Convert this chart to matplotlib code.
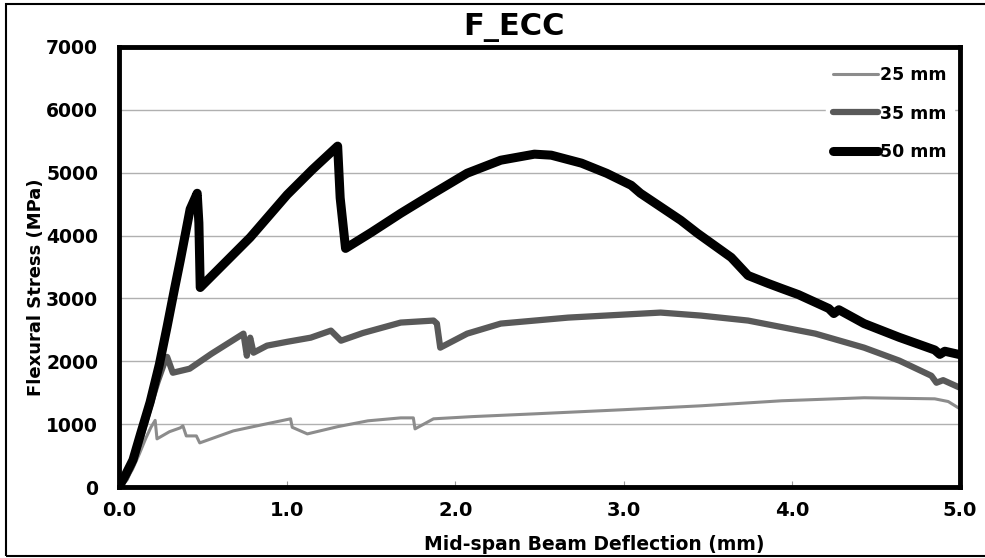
import matplotlib
matplotlib.use('Agg')
import matplotlib.pyplot as plt
from matplotlib.patches import Rectangle

plt.rcParams['font.family'] = ['DejaVu Sans']
plt.rcParams['font.weight'] = 'bold'

# 25 mm
x25 = [0.0, 0.04, 0.08, 0.12, 0.16, 0.19, 0.215, 0.226, 0.30, 0.364, 0.38, 0.40, 0.46, 0.48,
       0.68, 0.85, 1.02, 1.03, 1.12, 1.30, 1.48, 1.675, 1.75, 1.76, 1.87, 2.10, 2.47,
       3.00, 3.46, 3.94, 4.43, 4.85, 4.93, 5.0]
y25 = [0, 110, 280, 520, 780, 950, 1060, 766, 880, 941, 973, 813, 813, 702,
       893, 990, 1085, 950, 845, 960, 1053, 1100, 1100, 925, 1085, 1120, 1164,
       1230, 1292, 1372, 1420, 1403, 1360, 1244]

# 35 mm
x35 = [0.0, 0.04, 0.08, 0.13, 0.18, 0.23, 0.27, 0.286, 0.32, 0.42, 0.55, 0.74, 0.76, 0.78, 0.80,
       0.88, 1.00, 1.14, 1.26, 1.32, 1.45, 1.675, 1.87, 1.89, 1.91, 2.07, 2.27, 2.67,
       3.22, 3.46, 3.74, 4.14, 4.43, 4.64, 4.83, 4.86, 4.90, 5.0]
y35 = [0, 130, 360, 780, 1250, 1680, 1980, 2070, 1818, 1882, 2120, 2440, 2089, 2376, 2137,
       2249, 2310, 2376, 2488, 2328, 2450, 2616, 2648, 2600, 2217, 2440, 2600, 2695,
       2775, 2727, 2648, 2440, 2217, 2010, 1770, 1659, 1700, 1579]

# 50 mm
x50 = [0.0, 0.04, 0.083, 0.13, 0.185, 0.24, 0.286, 0.33, 0.364, 0.40, 0.423, 0.465, 0.475, 0.483,
       0.78, 1.00, 1.15, 1.30, 1.315, 1.347, 1.50, 1.675, 1.87, 2.07, 2.27, 2.47, 2.57,
       2.75, 2.90, 3.045, 3.10, 3.34, 3.44, 3.64, 3.74, 3.86, 3.94, 4.04, 4.22, 4.25, 4.28,
       4.43, 4.64, 4.85, 4.88, 4.91, 5.0]
y50 = [0, 200, 430, 860, 1350, 1950, 2550, 3150, 3600, 4100, 4420, 4673, 4200, 3174,
       3970, 4650, 5050, 5423, 4600, 3796, 4050, 4354, 4673, 4992, 5199, 5295, 5279,
       5152, 4990, 4800, 4673, 4243, 4035, 3652, 3365, 3238, 3158, 3060, 2840, 2760, 2820,
       2600, 2380, 2180, 2110, 2160, 2105]

xticks = [0.0, 1.0, 2.0, 3.0, 4.0, 5.0]
yticks = [0, 1000, 2000, 3000, 4000, 5000, 6000, 7000]

fig = plt.figure(figsize=(9.85, 5.58), dpi=100)
ax = fig.add_axes([0.1208, 0.1272, 0.8538, 0.7886])

ax.plot(x25, y25, color='#8c8c8c', lw=2.2, label='25 mm',
        solid_joinstyle='round', solid_capstyle='round')
ax.plot(x35, y35, color='#595959', lw=4.5, label='35 mm',
        solid_joinstyle='round', solid_capstyle='round')
ax.plot(x50, y50, color='black', lw=6.5, label='50 mm',
        solid_joinstyle='round', solid_capstyle='round')

ax.set_xlim(0, 5.0)
ax.set_ylim(0, 7000)
ax.set_xticks(xticks)
ax.set_xticklabels(['%.1f' % v for v in xticks])
ax.set_yticks(yticks)
ax.tick_params(axis='x', direction='in', length=4, color='#999999', labelsize=14, pad=10)
ax.tick_params(axis='y', length=0, labelsize=13.5, pad=15)
ax.grid(axis='y', color='#b0b0b0', lw=1)
ax.set_axisbelow(True)
for s in ax.spines.values():
    s.set_linewidth(3.5)
    s.set_color('black')

ax.set_xlabel('Mid-span Beam Deflection (mm)', fontsize=13.5, fontweight='bold')
ax.set_ylabel('Flexural Stress (MPa)', fontsize=13, fontweight='bold')
ax.xaxis.set_label_coords(0.565, -0.108)
ax.yaxis.set_label_coords(-0.088, 0.453)
fig.text(0.522, 0.951, 'F_ECC', fontsize=22, fontweight='bold', ha='center', va='center')

leg = ax.legend(loc='upper right', frameon=True, fontsize=12.5, handlelength=2.6,
                handletextpad=0.15, labelspacing=1.2, borderaxespad=0.3,
                bbox_to_anchor=(0.999, 0.985))
leg.get_frame().set_edgecolor('white')
leg.get_frame().set_facecolor('white')
leg.get_frame().set_alpha(1)
for h in leg.get_lines():
    h.set_solid_capstyle('round')

fig.patches.append(Rectangle((0.006, 0.004), 1.2, 0.988, transform=fig.transFigure,
                             fill=False, edgecolor='black', lw=1.5))

plt.savefig('out.png', dpi=100)
